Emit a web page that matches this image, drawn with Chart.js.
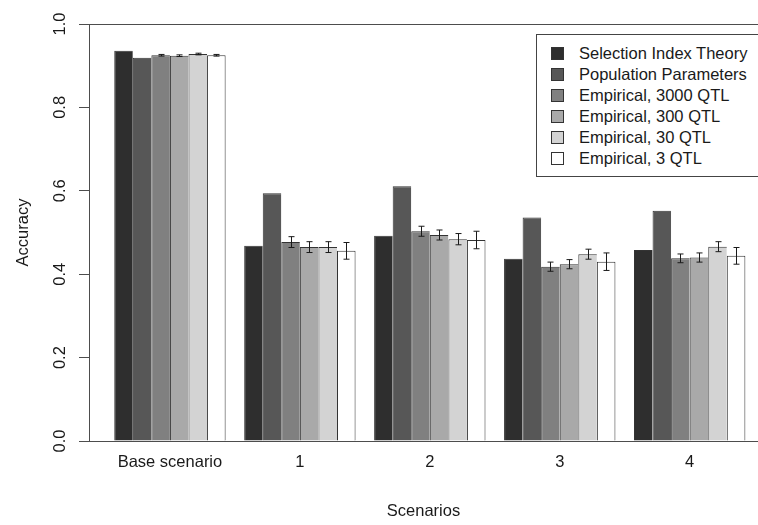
<!DOCTYPE html>
<html>
<head>
<meta charset="utf-8">
<script src="https://cdn.jsdelivr.net/npm/chart.js@4.4.1/dist/chart.umd.min.js"></script>
<style>
  html, body { margin: 0; padding: 0; background: #fff; overflow: hidden; }
  #wrap { position: relative; width: 758px; height: 525px; overflow: hidden; }
  #legend {
    position: absolute; left: 536px; top: 34px; width: 240px; height: 133px;
    border: 1px solid #444; background: #fff; box-sizing: content-box;
    font-family: 'Liberation Sans', Arial, sans-serif; font-size: 16.5px; color: #1a1a1a;
    padding-top: 8px;
  }
  #legend .row { height: 21px; display: flex; align-items: center; white-space: nowrap; }
  #legend .sw { width: 11px; height: 11px; border: 1px solid #333; margin-left: 14px; margin-right: 15px; }
</style>
</head>
<body>
<div id="wrap">
  <canvas id="chart" width="758" height="525"></canvas>
  <div id="legend"></div>
</div>
<script>
const categories = ['Base scenario', '1', '2', '3', '4'];
const seriesNames = ['Selection Index Theory', 'Population Parameters', 'Empirical, 3000 QTL',
                     'Empirical, 300 QTL', 'Empirical, 30 QTL', 'Empirical, 3 QTL'];
const selectionIndex = [0.936, 0.468, 0.492, 0.437, 0.458];
const popParams      = [0.919, 0.594, 0.611, 0.536, 0.552];
const emp3000        = [0.925, 0.477, 0.503, 0.418, 0.438];
const emp300         = [0.924, 0.465, 0.494, 0.424, 0.440];
const emp30          = [0.928, 0.465, 0.484, 0.448, 0.466];
const emp3           = [0.925, 0.456, 0.482, 0.430, 0.444];
const err3000 = [0.002, 0.013, 0.012, 0.011, 0.0105];
const err300  = [0.002, 0.013, 0.012, 0.011, 0.011];
const err30   = [0.002, 0.013, 0.0135, 0.012, 0.012];
const err3    = [0.002, 0.020, 0.021, 0.021, 0.020];
const yTicks = [0, 0.2, 0.4, 0.6, 0.8, 1.0];

const fills = ['#2e2e2e', '#575757', '#808080', '#a9a9a9', '#d3d3d3', '#ffffff'];
const FONT = "'Liberation Sans', Arial, sans-serif";
const TEXT = '#1a1a1a';
const AXIS = '#4d4d4d';

// R barplot layout: 6 bars per group, 1 bar of space between groups
const groupX = i => 4 + 7 * i;

const allValues = [selectionIndex, popParams, emp3000, emp300, emp30, emp3];
const allErrors = [null, null, err3000, err300, err30, err3];

const datasets = allValues.map((vals, k) => ({
  label: seriesNames[k],
  data: vals.map((v, i) => ({ x: groupX(i), y: v })),
  errors: allErrors[k],
  backgroundColor: fills[k],
  borderColor: '#333',
  borderWidth: { top: 1, left: 1, right: k === 5 ? 1 : 0, bottom: 0 },
  borderSkipped: false,
  categoryPercentage: 6 / 7,
  barPercentage: 1
}));

const errorBars = {
  id: 'errorBars',
  afterDatasetsDraw(chart) {
    const ctx = chart.ctx;
    const y = chart.scales.y;
    ctx.save();
    ctx.strokeStyle = TEXT;
    ctx.lineWidth = 1;
    chart.data.datasets.forEach((ds, di) => {
      if (!ds.errors) return;
      chart.getDatasetMeta(di).data.forEach((bar, i) => {
        const v = ds.data[i].y, e = ds.errors[i];
        const x = Math.round(bar.x) + 0.5;
        const y1 = y.getPixelForValue(v + e), y2 = y.getPixelForValue(v - e);
        ctx.beginPath();
        ctx.moveTo(x, y1); ctx.lineTo(x, y2);
        ctx.moveTo(x - 3, y1); ctx.lineTo(x + 3, y1);
        ctx.moveTo(x - 3, y2); ctx.lineTo(x + 3, y2);
        ctx.stroke();
      });
    });
    ctx.restore();
  }
};

const htmlLegend = {
  id: 'htmlLegend',
  afterUpdate(chart) {
    const box = document.getElementById('legend');
    box.innerHTML = '';
    chart.data.datasets.forEach(ds => {
      const row = document.createElement('div');
      row.className = 'row';
      const sw = document.createElement('span');
      sw.className = 'sw';
      sw.style.background = ds.backgroundColor;
      const txt = document.createElement('span');
      txt.textContent = ds.label;
      row.appendChild(sw);
      row.appendChild(txt);
      box.appendChild(row);
    });
  }
};

new Chart(document.getElementById('chart'), {
  type: 'bar',
  data: { datasets },
  plugins: [errorBars, htmlLegend],
  options: {
    responsive: false,
    animation: false,
    layout: { padding: { top: 24, right: 0, bottom: 0, left: 0 } },
    plugins: { legend: { display: false }, tooltip: { enabled: false } },
    scales: {
      x: {
        type: 'linear',
        min: -0.36,
        max: 35.68,
        offset: false,
        grid: { display: false, drawTicks: false, offset: false },
        border: { display: false },
        afterBuildTicks: s => { s.ticks = categories.map((_, i) => ({ value: groupX(i) })); },
        afterFit: s => { s.height = 84; },
        ticks: {
          autoSkip: false, maxRotation: 0, padding: 12,
          color: TEXT, font: { family: FONT, size: 16.5 },
          callback: (v, i) => categories[i]
        },
        title: {
          display: true, text: 'Scenarios', color: TEXT,
          font: { family: FONT, size: 16.5 }, padding: { top: 0, bottom: 4 }
        }
      },
      y: {
        min: 0,
        max: 1,
        afterBuildTicks: s => { s.ticks = yTicks.map(v => ({ value: v })); },
        afterFit: s => { s.width = 89; },
        grid: {
          color: c => (c.tick && (c.tick.value === 0 || c.tick.value === 1)) ? AXIS : 'rgba(0,0,0,0)',
          tickColor: AXIS,
          tickLength: 10,
          lineWidth: 1
        },
        border: { display: true, color: AXIS, width: 1 },
        ticks: {
          minRotation: 90, maxRotation: 90, crossAlign: 'center', padding: 7,
          color: TEXT, font: { family: FONT, size: 16.5 },
          callback: v => v.toFixed(1)
        },
        title: {
          display: true, text: 'Accuracy', color: TEXT,
          font: { family: FONT, size: 16.5 }, padding: { top: 14, bottom: 0 }
        }
      }
    }
  }
});
</script>
</body>
</html>
